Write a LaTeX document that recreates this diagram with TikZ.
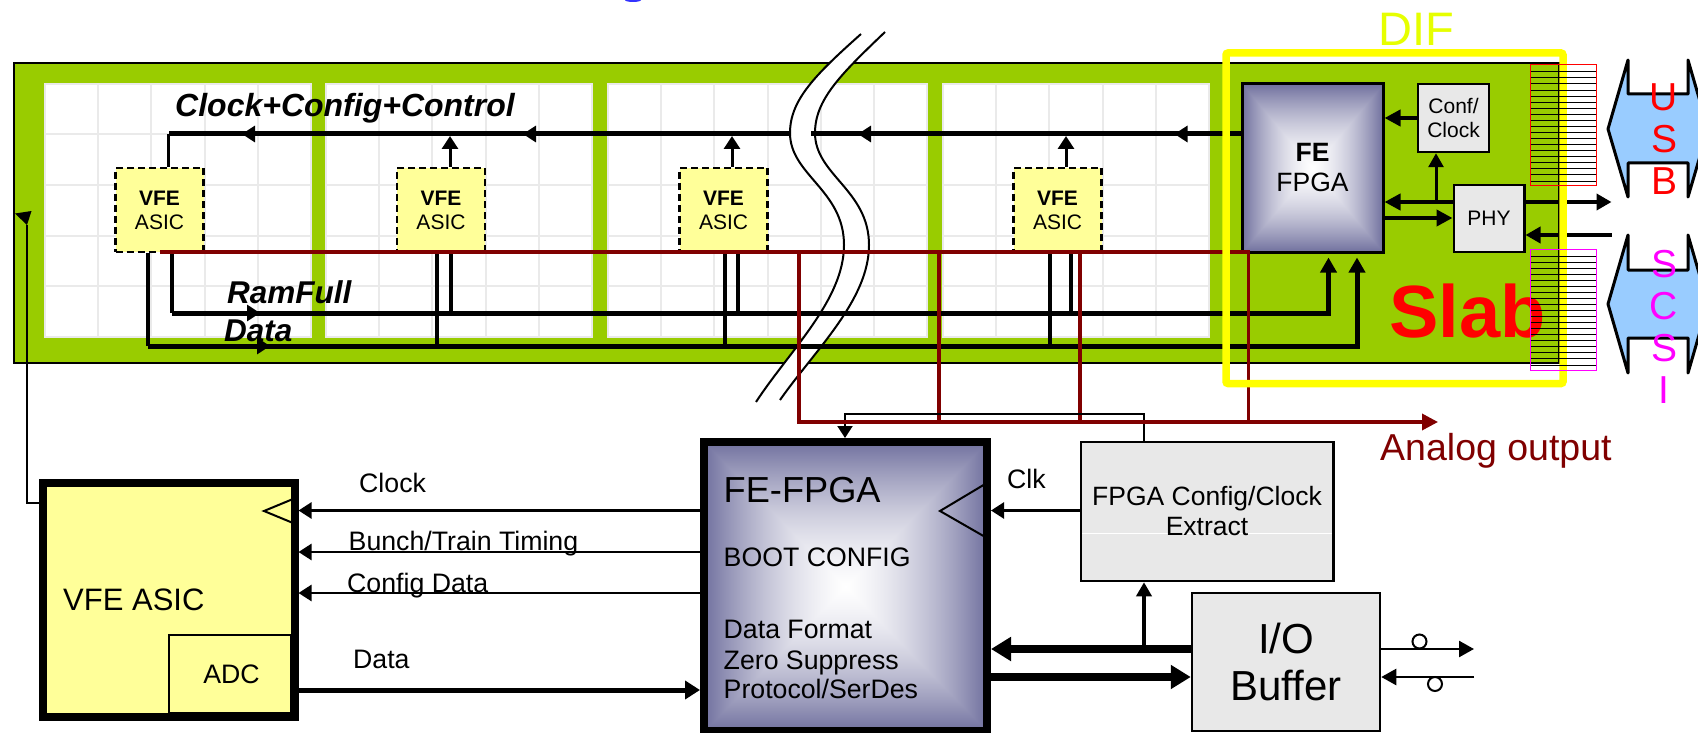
\documentclass[tikz,border=0pt]{standalone}
\usepackage{xcolor}
\usepackage{fontspec}
\setmainfont{Liberation Sans}
\usetikzlibrary{arrows.meta}
\definecolor{slabgreen}{HTML}{99CC00}
\definecolor{asicyellow}{HTML}{FFFF99}
\definecolor{boxgray}{HTML}{E8E8E8}
\definecolor{cablered}{HTML}{800000}
\definecolor{cableblue}{HTML}{99CCFF}
\definecolor{difyellow}{HTML}{E6FF00}
\definecolor{gridgray}{HTML}{EAEAEA}
\definecolor{scsipink}{HTML}{FF00FF}
\definecolor{usbred}{HTML}{FF0000}
\definecolor{difframe}{HTML}{FFFF00}
\definecolor{topblue}{HTML}{3333FF}
\newcommand{\fs}[2]{\fontsize{#1}{#2}\selectfont}
\pgfdeclarefunctionalshading{glowbox}{\pgfpoint{-50bp}{-50bp}}{\pgfpoint{50bp}{50bp}}{}{
    abs exch abs 2 copy lt {exch} if pop 25 div
    dup dup mul 0.6 mul exch 0.4 mul add
    dup 0.56 mul 1 exch sub exch
    dup 0.56 mul 1 exch sub exch
    0.38 mul 1 exch sub
}
\tikzset{
    slabbox/.style={draw,fill=slabgreen,line width=2.5pt},
    panelgrid/.style={draw=gridgray,line width=2pt},
    wavecurve/.style={draw,line width=2pt},
    vfebox/.style={draw,dashed,dash pattern=on 7pt off 4pt,fill=asicyellow,line width=2.8pt,
        minimum width=88pt,minimum height=84pt,align=center,font=\fs{21}{24}},
    fpgabox/.style={draw,shade,shading=glowbox,inner sep=0pt},
    graybox/.style={draw,fill=boxgray,line width=2.5pt,inner sep=0pt,align=center},
    lbl/.style={inner sep=0pt,anchor=base west,font=\fs{26.7}{30}},
    boldlbl/.style={inner sep=0pt,anchor=base west,font=\fs{31.5}{34}\bfseries\itshape},
    upright/.style={inner sep=0pt,align=center,font=\fs{39}{42}},
    bus/.style={line width=5pt},
    riser/.style={line width=4pt},
    stub/.style={line width=3pt},
    sig/.style={line width=2.5pt},
    heavy/.style={line width=7.5pt},
    midtip/.style={-{Triangle[length=13pt,width=16pt]}},
    bigtip/.style={-{Triangle[length=20pt,width=23pt]}},
    redline/.style={draw=cablered,line width=3.5pt},
    stripe/.style={line width=.8pt},
    cable/.style={draw,fill=cableblue,line width=3pt,line join=round}
}
\begin{document}
\begin{tikzpicture}[x=1pt,y=-1pt]
    \path[use as bounding box,clip] (0,0) rectangle (1698,733);
    \fill[white] (0,0) rectangle (1698,733);
    \fill[topblue] (633,0) ellipse (8 and 2);

    \path[slabbox] (14,63) rectangle (1559,363);
    \foreach \px/\nc in {45/5,326/5,608/6,943/5}{
        \fill[white] (\px,84) rectangle +(\nc*53.2,253);
        \draw[panelgrid] (\px,84) rectangle +(\nc*53.2,253);
        \foreach \i in {1,...,\nc} \draw[panelgrid] (\px+\i*53.2,84) -- +(0,253);
        \foreach \j in {1,...,4} \draw[panelgrid] (\px,84+\j*50.5) -- +(\nc*53.2,0);
    }
    \fill[white] (861,34) .. controls (815,75) and (790,100) .. (790,133)
        .. controls (790,175) and (844,190) .. (844,245)
        .. controls (844,300) and (790,350) .. (756,402)
        -- (780,400) .. controls (815,350) and (869,300) .. (869,245)
        .. controls (869,190) and (815,175) .. (815,133)
        .. controls (815,100) and (840,75) .. (885,32) -- cycle;
    \draw[wavecurve] (861,34) .. controls (815,75) and (790,100) .. (790,133)
        .. controls (790,175) and (844,190) .. (844,245)
        .. controls (844,300) and (790,350) .. (756,402);
    \draw[wavecurve] (885,32) .. controls (840,75) and (815,100) .. (815,133)
        .. controls (815,175) and (869,190) .. (869,245)
        .. controls (869,300) and (815,350) .. (780,400);

    \path
        (159.5,210)  node[vfebox] (vfa){\textbf{VFE}\\ASIC}
        (441,210)    node[vfebox] (vfb){\textbf{VFE}\\ASIC}
        (723.5,210)  node[vfebox] (vfc){\textbf{VFE}\\ASIC}
        (1057.5,210) node[vfebox] (vfd){\textbf{VFE}\\ASIC}
        (1312.5,168) node[fpgabox,line width=3pt,minimum width=141pt,minimum height=168pt,align=center,font=\fs{26.5}{30}] (fef){\textbf{FE}\\FPGA}
        (1453.5,118) node[graybox,minimum width=71pt,minimum height=68pt,font=\fs{21}{24.5}] (cfc){Conf/\\Clock}
        (1489,218.5) node[graybox,minimum width=70.5pt,minimum height=67pt,font=\fs{21}{24}] (phy){PHY}
        (168.75,600) node[draw,fill=asicyellow,line width=8pt,minimum width=251.5pt,minimum height=234pt] (asc){}
        (230,674)    node[draw,fill=asicyellow,line width=2pt,minimum width=122pt,minimum height=78pt,font=\fs{26.7}{30}] (adc){\hspace*{3pt}ADC}
        (845.5,586.5) node[fpgabox,line width=8pt,minimum width=283pt,minimum height=289pt] (ffp){}
        (1207,511.5) node[graybox,minimum width=252.5pt,minimum height=139pt,font=\fs{26.5}{30},
            path picture={\draw[white,line width=1pt] ([yshift=-21.5pt]path picture bounding box.west) -- ([yshift=-21.5pt]path picture bounding box.east);}] (fcc){FPGA Config/Clock\\Extract}
        (1286,662)   node[graybox,minimum width=188pt,minimum height=138pt,font=\fs{42}{47}] (iob){I/O\\Buffer}
        ;

    \coordinate (clk) at (0,134);
    \coordinate (ram) at (0,313);
    \coordinate (dat) at (0,346);
    \coordinate (rdb) at (0,252);
    \coordinate (ana) at (0,422);
    \coordinate (phi) at (0,202);
    \coordinate (pho) at (0,218);
    \coordinate (phr) at (0,235);
    \coordinate (lck) at (0,510.5);
    \coordinate (lbt) at (0,552);
    \coordinate (lcf) at (0,593);
    \coordinate (ldt) at (0,690);
    \coordinate (iou) at (0,649);
    \coordinate (iod) at (0,677);
    \coordinate (fbk) at (27,503);
    \coordinate (fbt) at (27,225);
    \coordinate (pin) at (1611.5,0);
    \coordinate (swe) at (1474,0);
    \coordinate (ane) at (1438,0);
    \coordinate (thn) at (845,414);

    \draw[bus] (fef.west |- clk) -- (811,0 |- clk);
    \draw[bus] (791,0 |- clk) -- (168.5,0 |- clk);
    \foreach \xt in {242,523,858,1174.5}
        \draw[bus,midtip] (\xt+13,0 |- clk) -- (\xt,0 |- clk);
    \draw[stub] (168.5,0 |- vfa.north) -- (168.5,0 |- clk);
    \draw[riser] (147.5,0 |- vfa.south) -- (147.5,0 |- dat);
    \draw[riser] (172,0 |- vfa.south) -- (172,0 |- ram);
    \foreach \v/\xu/\xd/\xr in {vfb/450/437/451,vfc/732/725/738,vfd/1066/1050/1071}{
        \draw[stub,-{Triangle[length=13pt,width=16pt]},shorten >=2pt] (\xu,0 |- \v.north) -- (\xu,0 |- clk);
        \draw[riser] (\xd,0 |- \v.south) -- (\xd,0 |- dat);
        \draw[riser] (\xr,0 |- \v.south) -- (\xr,0 |- ram);
    }
    \draw[bus,-{Triangle[length=15pt,width=16pt]},shorten >=4pt] (172,0 |- ram) -| (1328.5,0 |- fef.south);
    \draw[bus,-{Triangle[length=15pt,width=16pt]},shorten >=4pt] (147.5,0 |- dat) -| (1357,0 |- fef.south);
    \draw[bus,midtip] (247,0 |- ram) -- (260,0 |- ram);
    \draw[bus,midtip] (257,0 |- dat) -- (270,0 |- dat);

    \draw[redline,line join=miter] (160,0 |- rdb) -- (1248.5,0 |- rdb) -- (1248.5,0 |- ana);
    \foreach \xr in {939,1080}
        \draw[redline] (\xr,0 |- rdb) -- (\xr,0 |- ana);
    \draw[line width=2pt,-{Triangle[length=12pt,width=15pt]}] (1144,0 |- fcc.north) |- (thn) -- (845,0 |- ffp.north);
    \draw[redline,line join=miter,-{Triangle[length=16pt,width=16pt]}] (799,0 |- rdb) |- (ane |- ana);

    \draw[line width=4pt,-{Triangle[length=16pt,width=16pt]}] (cfc.west) -- (fef.east |- cfc.west);
    \draw[line width=4pt,-{Triangle[length=16pt,width=16pt]}] (phy.west |- phi) -- (fef.east |- phi);
    \draw[line width=4pt,-{Triangle[length=16pt,width=16pt]}] (fef.east |- pho) -- (phy.west |- pho);
    \draw[stub,-{Triangle[length=14pt,width=15pt]}] (1436,0 |- phi) -- (1436,0 |- cfc.south);
    \draw[line width=4pt,-{Triangle[length=15pt,width=16pt]}] (phy.east |- phi) -- (pin |- phi);
    \draw[line width=4pt,-{Triangle[length=15pt,width=16pt]}] (pin |- phr) -- (phy.east |- phr);

    \draw[line width=7.5pt,draw=difframe,rounded corners=2pt] (1226,53) rectangle (1563,383.5);

    \path (1389,337) node[inner sep=0pt,anchor=base west,text=usbred,font=\fs{74}{80}\bfseries] (sla){Slab};
    \foreach \n in {0,...,18}{
        \draw[stripe] (1530,71.7+\n*6.07) -- (1596,71.7+\n*6.07);
        \draw[stripe] (1530,256+\n*6.05) -- (1596,256+\n*6.05);
    }
    \draw[usbred,line width=1pt] (1530,65) rectangle (1596,186);
    \draw[scsipink,line width=1pt] (1530,249) rectangle (1596,370);

    \draw[cable] (1608,129) -- (1628,60) -- (1628,94) -- (1688,94) -- (1688,60) -- (1708,129)
        -- (1688,197) -- (1688,163) -- (1628,163) -- (1628,197) -- cycle;
    \draw[cable] (1608,304) -- (1628,235) -- (1628,270) -- (1688,270) -- (1688,235) -- (1708,304)
        -- (1688,373) -- (1688,338) -- (1628,338) -- (1628,373) -- cycle;

    \path
        (1664,139)   node[upright,text=usbred] (usb){U\\S\\B}
        (1664,327)   node[upright,text=scsipink] (scs){S\\C\\S\\I}
        (1378,45.5)  node[inner sep=0pt,anchor=base west,text=difyellow,font=\fs{47}{50}] (dif){DIF}
        (175,117)    node[boldlbl,font=\fs{32}{34}\bfseries\itshape] (lcc){Clock+Config+Control}
        (227,303)    node[boldlbl] (lrf){RamFull}
        (224,341)    node[boldlbl] (ldn){Data}
        (1380,460)   node[lbl,text=cablered,font=\fs{37.5}{40}] (lao){Analog output}
        (63,610)     node[lbl,font=\fs{31}{34}] (lva){VFE ASIC}
        (359,492)    node[lbl] (llc){Clock}
        (348.5,550)  node[lbl] (lbn){Bunch/Train Timing}
        (347,592)    node[lbl] (lcd){Config Data}
        (353,668)    node[lbl] (ldd){Data}
        (1007,488)   node[lbl] (lcl){Clk}
        (723.5,502)  node[lbl,font=\fs{36.2}{38}] (lff){FE-FPGA}
        (723.5,566)  node[lbl] (lbc){BOOT CONFIG}
        (723.5,638)  node[lbl] (ldf){Data Format}
        (723.5,669)  node[lbl] (lzs){Zero Suppress}
        (723.5,698)  node[lbl] (lps){Protocol/SerDes}
        ;

    \draw[line width=2pt] (293,499) -- (264,511) -- (293,523);
    \draw[line width=2pt] (983.5,485) -- (940,511) -- (983.5,536);

    \draw[sig,midtip] (ffp.west |- lck) -- (asc.east |- lck);
    \draw[sig,midtip] (ffp.west |- lbt) -- (asc.east |- lbt);
    \draw[sig,midtip] (ffp.west |- lcf) -- (asc.east |- lcf);
    \draw[line width=5pt,-{Triangle[length=15pt,width=18pt]}] (asc.east |- ldt) -- (ffp.west |- ldt);
    \draw[sig,midtip] (fcc.west |- lck) -- (ffp.east |- lck);
    \draw[heavy,bigtip] (iob.west |- iou) -- (ffp.east |- iou);
    \draw[heavy,bigtip] (ffp.east |- iod) -- (iob.west |- iod);
    \draw[line width=3.5pt,-{Triangle[length=14pt,width=15pt]}] (1144,0 |- iou) -- (1144,0 |- fcc.south);
    \draw[sig,-{Triangle[length=15pt,width=16pt]}] (iob.east |- iou) -- (swe |- iou);
    \draw[sig,-{Triangle[length=15pt,width=16pt]}] (swe |- iod) -- (iob.east |- iod);
    \path
        (1419.5,641.5) node[draw,circle,line width=2pt,minimum size=14pt,inner sep=0pt] (swa){}
        (1435,684)     node[draw,circle,line width=2pt,minimum size=14pt,inner sep=0pt] (swb){}
        ;
    \draw[line width=1.5pt] (asc.west |- fbk) -- (fbk) -- (fbt);
    \fill (15,213.5) -- (31.5,211) -- (fbt) -- cycle;
\end{tikzpicture}
\end{document}
